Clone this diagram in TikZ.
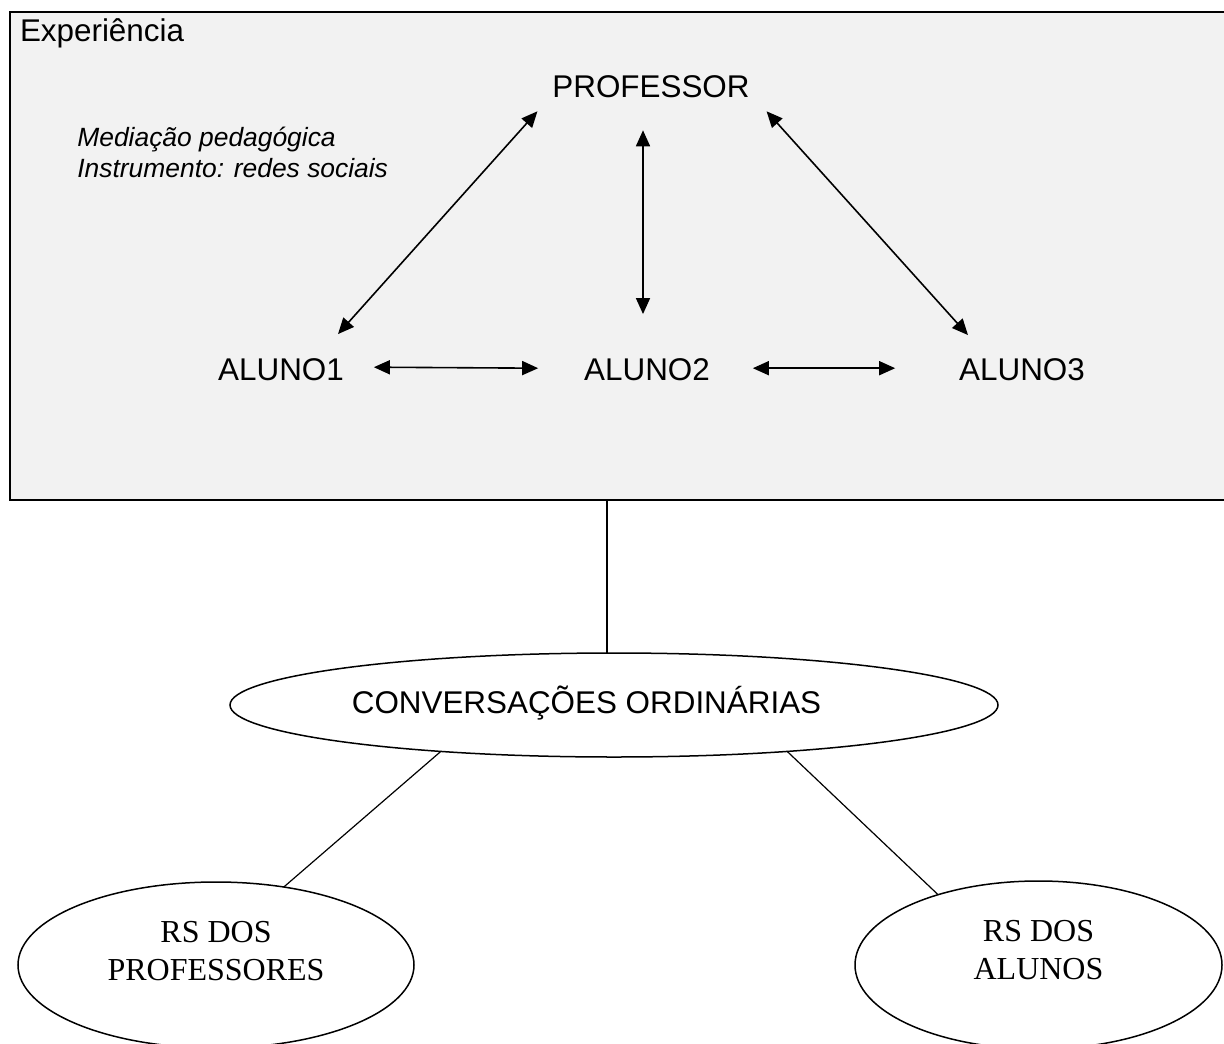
\documentclass[tikz,border=0pt]{standalone}
\usepackage{fontspec}
\setmainfont{Liberation Serif}
\newfontfamily\arialfont{Liberation Sans}
\usetikzlibrary{arrows.meta,shapes.geometric,calc}
\definecolor{boxgray}{HTML}{F2F2F2}
\begin{document}
\begin{tikzpicture}[x=0.5pt,y=-0.5pt,
  sans/.style={font=\arialfont\fontsize{15.7}{18}\selectfont, inner sep=0pt, outer sep=0pt},
  note/.style={font=\arialfont\itshape\fontsize{13.2}{15}\selectfont, inner sep=0pt, anchor=base west},
  serif/.style={font=\fontsize{16}{19}\selectfont, align=center, inner sep=0pt},
  biarrow/.style={{Triangle[length=8pt,width=7pt]}-{Triangle[length=8pt,width=7pt]}, line width=0.8pt},
  frame/.style={draw, fill=boxgray, line width=1.3pt, inner sep=0pt, minimum width=615pt, minimum height=244pt},
  oval/.style={draw, ellipse, line width=0.75pt, inner sep=0pt, outer sep=0pt},
  link/.style={line width=0.6pt}]
\useasboundingbox (0,0) rectangle (1224,1043);
\clip (0,0) rectangle (1224,1043);
\fill[white] (0,0) rectangle (1224,1043);
% frame
\node[frame] (box) at (625,256) {};
\node[sans, anchor=base west] (exp) at (20,42) {Experiência};
\node[note] (med1) at (77,147) {Mediação pedagógica};
\node[note] (med2) at (77,177) {Instrumento: redes sociais};
% main nodes
\node[sans, anchor=base] (prof) at (651,98) {PROFESSOR};
\node[sans, anchor=base] (a1) at (281,380) {ALUNO1};
\node[sans, anchor=base] (a2) at (647,380) {ALUNO2};
\node[sans, anchor=base] (a3) at (1022,380) {ALUNO3};
% arrows
\draw[biarrow] ([shift={(-15,13)}]prof.south west) -- ([shift={(57,-24)}]a1.north);
\draw[biarrow] ([shift={(-8,32)}]prof.south) -- ([shift={(-4,-44)}]a2.north);
\draw[biarrow] ([shift={(17,13)}]prof.south east) -- ([shift={(-54,-23)}]a3.north);
\draw[biarrow] ([shift={(30,-2)}]a1.east) -- ([shift={(-46,-1)}]a2.west);
\draw[biarrow] ([shift={(43,-1)}]a2.east) -- ([shift={(-64,-1)}]a3.west);
% lower part
\node[oval, minimum width=384pt, minimum height=52pt] (conv) at (614,705) {};
\node[sans, anchor=base] (convtxt) at (586.5,713) {CONVERSAÇÕES ORDINÁRIAS};
\draw[link] ([xshift=-9pt]box.south) -- ([xshift=-9pt]box.south |- conv.north);
\node[oval, minimum width=198pt, minimum height=83pt] (rsp) at (216,965) {};
\node[serif] (rsptxt) at (216,951) {RS DOS\\PROFESSORES};
\node[oval, minimum width=183.5pt, minimum height=84pt] (rsa) at (1038.5,965) {};
\node[serif] (rsatxt) at (1038.5,950) {RS DOS\\ALUNOS};
\draw[link] (conv.195) -- (rsp.49);
\draw[link] (conv.345) -- (rsa.145);
\end{tikzpicture}
\end{document}
